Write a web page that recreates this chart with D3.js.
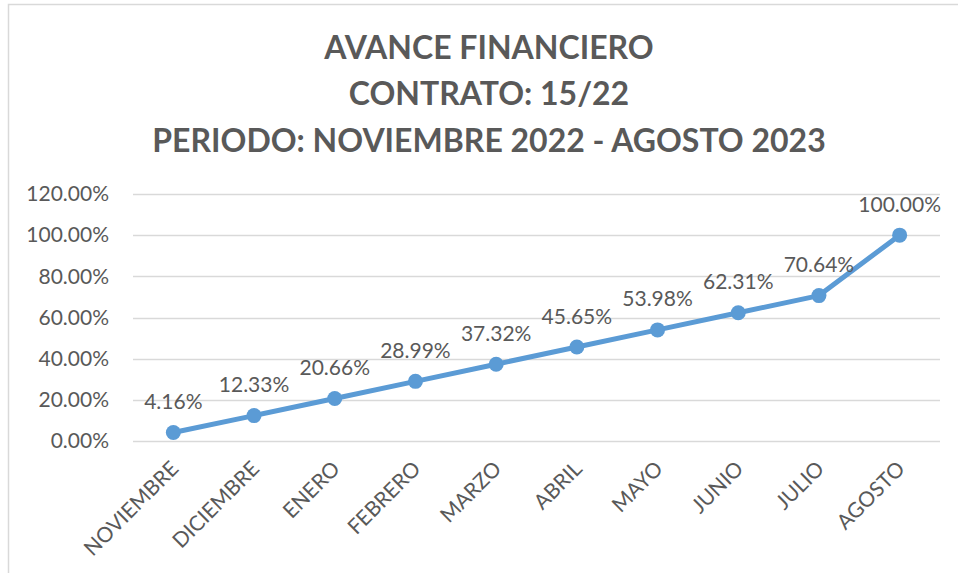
<!DOCTYPE html>
<html>
<head>
<meta charset="utf-8">
<script src="https://cdn.jsdelivr.net/npm/d3@7"></script>
<style>
  body { margin: 0; background: #fff; }
  text { font-family: Lato, "Open Sans", sans-serif; fill: #595959; }
</style>
</head>
<body>
<div id="chart"></div>
<script>
const months = ["NOVIEMBRE", "DICIEMBRE", "ENERO", "FEBRERO", "MARZO", "ABRIL", "MAYO", "JUNIO", "JULIO", "AGOSTO"];
const avance = [4.16, 12.33, 20.66, 28.99, 37.32, 45.65, 53.98, 62.31, 70.64, 100.00];
const yTicks = [0, 20, 40, 60, 80, 100, 120];
const titleLines = ["AVANCE FINANCIERO", "CONTRATO: 15/22", "PERIODO: NOVIEMBRE 2022 - AGOSTO 2023"];

const W = 958, H = 573;
const plot = {left: 133, right: 940, top: 194, bottom: 441};

const svg = d3.select("#chart").append("svg")
    .attr("width", W)
    .attr("height", H);

// frame (only top and left edges show in the picture)
svg.append("path")
    .attr("d", `M8.5,${H} V4.5 H${W}`)
    .attr("fill", "none")
    .attr("stroke", "#d9d9d9")
    .attr("stroke-width", 1.5);

// title
svg.append("g").selectAll("text")
    .data(titleLines)
    .join("text")
    .attr("x", 489)
    .attr("y", (d, i) => 58.5 + i * 46.5)
    .attr("text-anchor", "middle")
    .attr("font-size", 32)
    .attr("font-weight", "bold")
    .text(d => d);

const x = d3.scalePoint()
    .domain(months)
    .range([plot.left, plot.right])
    .padding(0.5);

const y = d3.scaleLinear()
    .domain([0, 120])
    .range([plot.bottom, plot.top]);

// gridlines
svg.append("g").selectAll("line")
    .data(yTicks)
    .join("line")
    .attr("x1", plot.left)
    .attr("x2", plot.right)
    .attr("y1", d => Math.round(y(d)) + 0.5)
    .attr("y2", d => Math.round(y(d)) + 0.5)
    .attr("stroke", "#d9d9d9")
    .attr("stroke-width", 1.5);

// y axis labels
const yAxis = svg.append("g")
    .attr("transform", `translate(${plot.left - 24},0)`)
    .call(d3.axisLeft(y).tickValues(yTicks).tickSize(0).tickPadding(0).tickFormat(d => d.toFixed(2) + "%"));
yAxis.select(".domain").remove();
yAxis.selectAll("text")
    .attr("font-size", 21)
    .attr("fill", "#595959")
    .style("font-family", "Lato, sans-serif");

// x axis labels, rotated
const xAxis = svg.append("g")
    .attr("transform", `translate(0,${plot.bottom})`)
    .call(d3.axisBottom(x).tickSize(0).tickPadding(0));
xAxis.select(".domain").remove();
xAxis.selectAll("text")
    .attr("font-size", 21)
    .attr("fill", "#595959")
    .style("font-family", "Lato, sans-serif")
    .attr("text-anchor", "end")
    .attr("dy", null)
    .attr("transform", "translate(6,29) rotate(-45)");

// line
svg.append("path")
    .datum(avance)
    .attr("fill", "none")
    .attr("stroke", "#5b9bd5")
    .attr("stroke-width", 5)
    .attr("stroke-linejoin", "round")
    .attr("d", d3.line()
        .x((d, i) => x(months[i]))
        .y(d => y(d)));

// markers
svg.append("g").selectAll("circle")
    .data(avance)
    .join("circle")
    .attr("cx", (d, i) => x(months[i]))
    .attr("cy", d => y(d))
    .attr("r", 7.5)
    .attr("fill", "#5b9bd5");

// data labels
svg.append("g").selectAll("text")
    .data(avance)
    .join("text")
    .attr("x", (d, i) => x(months[i]))
    .attr("y", d => y(d) - 23.5)
    .attr("text-anchor", "middle")
    .attr("font-size", 21)
    .attr("fill", "#404040")
    .text(d => d.toFixed(2) + "%");
</script>
</body>
</html>
